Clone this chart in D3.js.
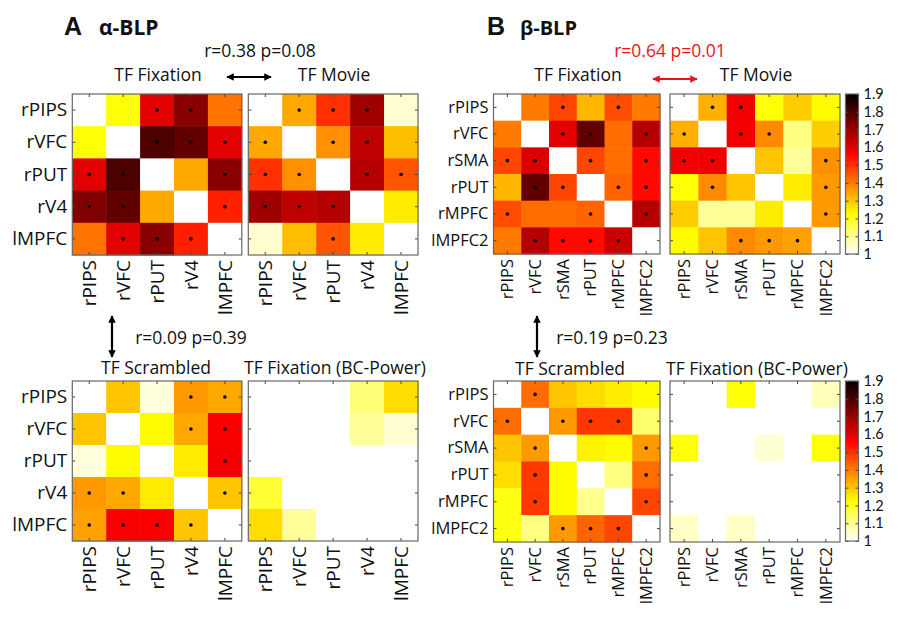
<!doctype html>
<html lang="en">
<head>
<meta charset="UTF-8" />
<script src="https://d3js.org/d3.v7.min.js"></script>
<style>
  body { margin: 0; background: #fff; }
  text { font-family: "Open Sans", sans-serif; }
</style>
</head>
<body>
<div id="chart"></div>
<script>
// Region labels
const labelsA = ["rPIPS", "rVFC", "rPUT", "rV4", "lMPFC"]
const labelsB = ["rPIPS", "rVFC", "rSMA", "rPUT", "rMPFC", "lMPFC2"]

// alpha-BLP matrices (null = diagonal)
const alphaFixation = [
  [null, 1.22, 1.60, 1.72, 1.41],
  [1.22, null, 1.80, 1.77, 1.60],
  [1.60, 1.80, null, 1.34, 1.72],
  [1.73, 1.77, 1.34, null, 1.52],
  [1.41, 1.60, 1.72, 1.52, null]
]
const alphaFixationSig = [[0,0,1,1,0],[0,0,1,1,1],[1,1,0,0,1],[1,1,0,0,1],[0,1,1,1,0]]

const alphaMovie = [
  [null, 1.34, 1.50, 1.69, 1.04],
  [1.34, null, 1.37, 1.65, 1.31],
  [1.50, 1.37, null, 1.66, 1.45],
  [1.69, 1.65, 1.66, null, 1.25],
  [1.04, 1.31, 1.45, 1.25, null]
]
const alphaMovieSig = [[0,1,1,1,0],[1,0,1,1,0],[1,1,0,1,1],[1,1,1,0,0],[0,0,1,0,0]]

const alphaScrambled = [
  [null, 1.30, 1.03, 1.36, 1.34],
  [1.30, null, 1.23, 1.34, 1.57],
  [1.03, 1.23, null, 1.25, 1.58],
  [1.36, 1.34, 1.25, null, 1.30],
  [1.35, 1.57, 1.57, 1.30, null]
]
const alphaScrambledSig = [[0,0,0,1,1],[0,0,0,1,1],[0,0,0,0,1],[1,1,0,0,1],[1,1,1,1,0]]

const alphaBC = [
  [1, 1, 1, 1.12, 1.27],
  [1, 1, 1, 1.09, 1.04],
  [1, 1, 1, 1, 1],
  [1.18, 1, 1, 1, 1],
  [1.27, 1.09, 1, 1, 1]
]

// beta-BLP matrices
const betaFixation = [
  [null, 1.40, 1.47, 1.32, 1.46, 1.40],
  [1.40, null, 1.60, 1.77, 1.42, 1.66],
  [1.47, 1.61, null, 1.47, 1.42, 1.55],
  [1.32, 1.77, 1.47, null, 1.43, 1.55],
  [1.46, 1.42, 1.42, 1.43, null, 1.66],
  [1.40, 1.66, 1.55, 1.55, 1.63, null]
]
const betaFixationSig = [[0,0,1,0,1,0],[0,0,1,1,0,1],[1,1,0,1,0,1],[0,1,1,0,1,1],[1,0,0,1,0,1],[0,1,1,1,1,0]]

const betaMovie = [
  [null, 1.33, 1.58, 1.22, 1.29, 1.23],
  [1.33, null, 1.58, 1.38, 1.11, 1.29],
  [1.58, 1.58, null, 1.30, 1.09, 1.37],
  [1.22, 1.38, 1.30, null, 1.25, 1.36],
  [1.29, 1.09, 1.09, 1.25, null, 1.36],
  [1.23, 1.30, 1.38, 1.36, 1.35, null]
]
const betaMovieSig = [[0,1,1,0,0,0],[1,0,1,1,0,0],[1,1,0,0,0,1],[0,1,0,0,0,1],[0,0,0,0,0,1],[0,0,1,1,1,0]]

const betaScrambled = [
  [null, 1.42, 1.30, 1.27, 1.25, 1.23],
  [1.42, null, 1.36, 1.49, 1.49, 1.13],
  [1.30, 1.36, null, 1.24, 1.23, 1.36],
  [1.27, 1.49, 1.23, null, 1.11, 1.42],
  [1.21, 1.49, 1.23, 1.10, null, 1.47],
  [1.21, 1.11, 1.36, 1.43, 1.47, null]
]
const betaScrambledSig = [[0,1,0,0,0,0],[1,0,1,1,1,0],[0,1,0,0,0,1],[0,1,0,0,0,1],[0,1,0,0,0,1],[0,0,1,1,1,0]]

const betaBC = [
  [1, 1, 1.22, 1, 1, 1.06],
  [1, 1, 1, 1, 1, 1],
  [1.22, 1, 1, 1.04, 1, 1.22],
  [1, 1, 1, 1, 1, 1],
  [1, 1, 1, 1, 1, 1],
  [1.05, 1, 1.05, 1, 1, 1]
]

const colorbarTicks = [1, 1.1, 1.2, 1.3, 1.4, 1.5, 1.6, 1.7, 1.8, 1.9]

// ---------------------------------------------------------------
const W = 898, H = 617
const svg = d3.select("#chart").append("svg")
  .attr("width", W).attr("height", H)

// reversed MATLAB "hot": 1 -> white, 1.9 -> black
function hotReversed(t) {
  const s = 1 - t
  const r = Math.min(1, s / 0.375)
  const g = Math.max(0, Math.min(1, (s - 0.375) / 0.375))
  const b = Math.max(0, Math.min(1, (s - 0.75) / 0.25))
  return d3.rgb(r * 255, g * 255, b * 255).toString()
}
const color = d3.scaleSequential(hotReversed).domain([1, 1.9]).clamp(true)

const boxColor = "#666"

function drawMatrix(data, sig, labels, x0, y0, w, h, rowLabels, fontSize) {
  const n = labels.length
  const x = d3.scaleBand().domain(d3.range(n)).range([x0, x0 + w])
  const y = d3.scaleBand().domain(d3.range(n)).range([y0, y0 + h])
  const g = svg.append("g")

  const cells = []
  data.forEach((row, i) => row.forEach((v, j) => cells.push({ i, j, v, s: sig ? sig[i][j] : 0 })))

  g.selectAll("rect.cell")
    .data(cells)
    .join("rect")
    .attr("class", "cell")
    .attr("x", d => x(d.j))
    .attr("y", d => y(d.i))
    .attr("width", x.bandwidth() + 0.5)
    .attr("height", y.bandwidth() + 0.5)
    .attr("fill", d => d.v === null ? "#fff" : color(d.v))

  g.selectAll("circle.dot")
    .data(cells.filter(d => d.s))
    .join("circle")
    .attr("class", "dot")
    .attr("cx", d => x(d.j) + x.bandwidth() / 2)
    .attr("cy", d => y(d.i) + y.bandwidth() / 2)
    .attr("r", 1.8)
    .attr("fill", "#000")

  // axes: ticks pointing inside, MATLAB style
  const left = g.append("g").attr("transform", `translate(${x0},0)`)
    .call(d3.axisLeft(y).tickSizeInner(-3).tickSizeOuter(0).tickPadding(5)
      .tickFormat(i => rowLabels ? labels[i] : ""))
  const right = g.append("g").attr("transform", `translate(${x0 + w},0)`)
    .call(d3.axisRight(y).tickSizeInner(-3).tickSizeOuter(0).tickFormat(""))
  const top = g.append("g").attr("transform", `translate(0,${y0})`)
    .call(d3.axisTop(x).tickSizeInner(-3).tickSizeOuter(0).tickFormat(""))
  const bottom = g.append("g").attr("transform", `translate(0,${y0 + h})`)
    .call(d3.axisBottom(x).tickSizeInner(-3).tickSizeOuter(0).tickFormat(i => labels[i]))

  bottom.selectAll("text")
    .attr("transform", "rotate(-90)")
    .attr("text-anchor", "end")
    .attr("x", -5)
    .attr("y", 0)
    .attr("dy", "0.35em")

  ;[left, right, top, bottom].forEach(a => {
    a.select(".domain").remove()
    a.selectAll("line").attr("stroke", "#444")
    a.selectAll("text").attr("font-size", fontSize).attr("fill", "#111")
      .style("font-family", "'Open Sans', sans-serif")
  })

  g.append("rect")
    .attr("x", x0).attr("y", y0).attr("width", w).attr("height", h)
    .attr("fill", "none").attr("stroke", boxColor).attr("stroke-width", 1.2)
}

function drawColorbar(x0, y0, w, h, id) {
  const cy = d3.scaleLinear().domain([1, 1.9]).range([y0 + h, y0])
  const grad = svg.append("defs").append("linearGradient")
    .attr("id", id).attr("x1", 0).attr("y1", 1).attr("x2", 0).attr("y2", 0)
  d3.range(0, 1.0001, 0.02).forEach(t => {
    grad.append("stop").attr("offset", t).attr("stop-color", hotReversed(t))
  })
  svg.append("rect").attr("x", x0).attr("y", y0).attr("width", w).attr("height", h)
    .attr("fill", `url(#${id})`)
  const ax = svg.append("g").attr("transform", `translate(${x0 + w},0)`)
    .call(d3.axisRight(cy).tickValues(colorbarTicks).tickSizeInner(-3).tickSizeOuter(0)
      .tickPadding(5).tickFormat(d3.format("~g")))
  ax.select(".domain").remove()
  ax.selectAll("line").attr("stroke", "#444")
  ax.selectAll("text").attr("font-size", 14.5).attr("fill", "#111")
    .style("font-family", "Lato, sans-serif")
  const ax2 = svg.append("g").attr("transform", `translate(${x0},0)`)
    .call(d3.axisLeft(cy).tickValues(colorbarTicks).tickSizeInner(-3).tickSizeOuter(0).tickFormat(""))
  ax2.select(".domain").remove()
  ax2.selectAll("line").attr("stroke", "#444")
  svg.append("rect").attr("x", x0).attr("y", y0).attr("width", w).attr("height", h)
    .attr("fill", "none").attr("stroke", boxColor).attr("stroke-width", 1.2)
}

function text(x, y, s, opts = {}) {
  return svg.append("text").attr("x", x).attr("y", y).text(s)
    .attr("font-size", opts.size || 17.5)
    .attr("font-weight", opts.weight || "normal")
    .attr("text-anchor", opts.anchor || "start")
    .attr("fill", opts.fill || "#111")
    .style("font-family", opts.family || "'Open Sans', sans-serif")
}

// arrow markers
const defs = svg.append("defs")
;[["arrowK", "#000"], ["arrowR", "#e8141c"]].forEach(([id, c]) => {
  defs.append("marker").attr("id", id)
    .attr("viewBox", "0 0 10 10").attr("refX", 9).attr("refY", 5)
    .attr("markerWidth", 3.4).attr("markerHeight", 3.4)
    .attr("orient", "auto-start-reverse")
    .append("path").attr("d", "M0,0 L10,5 L0,10 z").attr("fill", c)
})
function arrow(x1, y1, x2, y2, id, c) {
  svg.append("line").attr("x1", x1).attr("y1", y1).attr("x2", x2).attr("y2", y2)
    .attr("stroke", c).attr("stroke-width", 2.2)
    .attr("marker-start", `url(#${id})`).attr("marker-end", `url(#${id})`)
}

// ---- Panel A ----
text(64, 35, "A", { size: 25, weight: "bold", family: "'Liberation Sans', Arial, sans-serif" })
text(99, 35, "α-BLP", { size: 21, weight: "bold" })
text(260, 57, "r=0.38 p=0.08", { anchor: "middle" })
text(158, 81, "TF Fixation", { anchor: "middle" })
text(334, 81, "TF Movie", { anchor: "middle" })
arrow(227, 77, 271, 77, "arrowK", "#000")

drawMatrix(alphaFixation, alphaFixationSig, labelsA, 72.3, 94, 169.5, 161, true, 19)
drawMatrix(alphaMovie, alphaMovieSig, labelsA, 248.3, 94, 169.7, 161, false, 19)

arrow(112, 316, 112, 357, "arrowK", "#000")
text(191, 344, "r=0.09 p=0.39", { anchor: "middle" })
text(156, 374, "TF Scrambled", { anchor: "middle" })
text(335, 374, "TF Fixation (BC-Power)", { anchor: "middle" })

drawMatrix(alphaScrambled, alphaScrambledSig, labelsA, 72.3, 381, 169.5, 160, true, 19)
drawMatrix(alphaBC, null, labelsA, 248.3, 381, 169.7, 160, false, 19)

// ---- Panel B ----
text(487, 35, "B", { size: 25, weight: "bold", family: "'Liberation Sans', Arial, sans-serif" })
text(520, 35, "β-BLP", { size: 20, weight: "bold" })
text(670, 57, "r=0.64 p=0.01", { anchor: "middle", fill: "#e8141c" })
text(578, 81, "TF Fixation", { anchor: "middle" })
text(756, 81, "TF Movie", { anchor: "middle" })
arrow(653, 79, 697, 79, "arrowR", "#e8141c")

drawMatrix(betaFixation, betaFixationSig, labelsB, 493.5, 94, 166.5, 160, true, 16.5)
drawMatrix(betaMovie, betaMovieSig, labelsB, 670, 94, 170, 160, false, 16.5)
drawColorbar(845.5, 94, 13, 160, "cb1")

arrow(537, 316, 537, 357, "arrowK", "#000")
text(612, 344, "r=0.19 p=0.23", { anchor: "middle" })
text(570, 375, "TF Scrambled", { anchor: "middle" })
text(757, 375, "TF Fixation (BC-Power)", { anchor: "middle" })

drawMatrix(betaScrambled, betaScrambledSig, labelsB, 493.5, 381, 166.5, 161, true, 16.5)
drawMatrix(betaBC, null, labelsB, 670, 381, 170, 161, false, 16.5)
drawColorbar(845.5, 381, 13, 160, "cb2")
</script>
</body>
</html>
